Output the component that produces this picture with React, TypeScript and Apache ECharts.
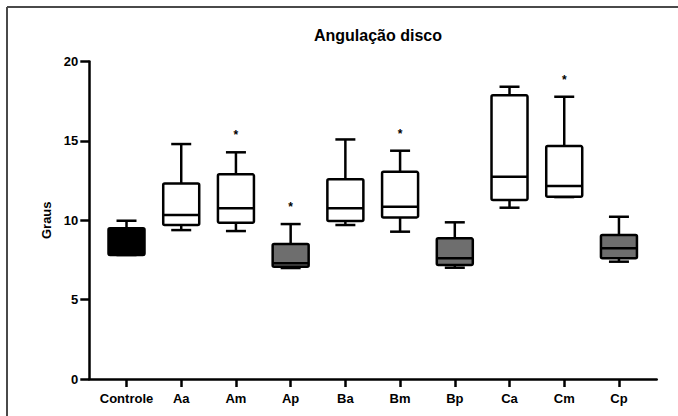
import React, { useEffect, useRef } from "react";
import * as echarts from "echarts";

const categories = ["Controle", "Aa", "Am", "Ap", "Ba", "Bm", "Bp", "Ca", "Cm", "Cp"];
const minValues = [7.81, 9.38, 9.32, 6.99, 9.7, 9.28, 7.01, 10.79, 11.46, 7.39];
const q1Values = [7.81, 9.7, 9.84, 7.07, 9.95, 10.18, 7.18, 11.27, 11.48, 7.6];
const medianValues = [8.8, 10.33, 10.75, 7.29, 10.75, 10.85, 7.6, 12.74, 12.15, 8.23];
const q3Values = [9.49, 12.32, 12.89, 8.5, 12.59, 13.05, 8.86, 17.88, 14.67, 9.07];
const maxValues = [9.97, 14.8, 14.28, 9.76, 15.09, 14.38, 9.87, 18.41, 17.78, 10.22];
const fillColors = ["#000000", "#ffffff", "#ffffff", "#6e6e6e", "#ffffff", "#ffffff", "#6e6e6e", "#ffffff", "#ffffff", "#6e6e6e"];
const significant = [false, false, true, true, false, true, false, false, true, false];
const yTicks = [0, 5, 10, 15, 20];

const FONT = "'Liberation Sans', Arial, sans-serif";

export default function App() {
  const ref = useRef<HTMLDivElement>(null);
  useEffect(() => {
    if (!ref.current) return;
    const chart = echarts.init(ref.current, null, { renderer: "svg" });
    const data = categories.map((c, i) => [
      i + 1,
      minValues[i],
      q1Values[i],
      medianValues[i],
      q3Values[i],
      maxValues[i],
      i,
    ]);
    const lw = 2.5;
    const option: any = {
      animation: false,
      backgroundColor: "#ffffff",
      title: {
        text: "Angulação disco",
        left: 373,
        top: 22,
        textAlign: "center",
        textStyle: { fontFamily: FONT, fontWeight: "bold", fontSize: 16, color: "#000" },
      },
      graphic: [
        {
          type: "line",
          shape: { x1: 7, y1: 7, x2: 678, y2: 7 },
          style: { stroke: "#4a4a4a", lineWidth: 2 },
          silent: true,
        },
        {
          type: "line",
          shape: { x1: 7, y1: 7, x2: 7, y2: 416 },
          style: { stroke: "#4a4a4a", lineWidth: 2 },
          silent: true,
        },
      ],
      grid: { left: 89.3, right: 21.3, top: 61.5, bottom: 37, containLabel: false },
      xAxis: {
        type: "value",
        min: 0.32,
        max: 10.69,
        splitLine: { show: false },
        axisLine: { show: true, lineStyle: { color: "#000", width: 2.5 } },
        axisTick: {
          show: true,
          length: 8,
          customValues: categories.map((c, i) => i + 1),
          lineStyle: { color: "#000", width: 2.5 },
        },
        axisLabel: {
          customValues: categories.map((c, i) => i + 1),
          formatter: (v: number) => categories[Math.round(v) - 1] || "",
          margin: 13,
          fontFamily: FONT,
          fontWeight: "bold",
          fontSize: 13,
          color: "#000",
        },
      },
      yAxis: {
        type: "value",
        min: 0,
        max: 20,
        interval: 5,
        name: "Graus",
        nameLocation: "middle",
        nameGap: 35,
        nameTextStyle: { fontFamily: FONT, fontWeight: "bold", fontSize: 13, color: "#000" },
        splitLine: { show: false },
        axisLine: { show: true, lineStyle: { color: "#000", width: 2.5 } },
        axisTick: { show: true, length: 9, lineStyle: { color: "#000", width: 2.5 } },
        axisLabel: {
          margin: 11,
          fontFamily: FONT,
          fontWeight: "bold",
          fontSize: 13,
          color: "#000",
          formatter: (v: number) => (yTicks.includes(v) ? String(v) : ""),
        },
      },
      series: [
        {
          type: "custom",
          data,
          encode: { x: 0, y: [1, 2, 3, 4, 5] },
          renderItem: (params: any, api: any) => {
            const x = api.value(0);
            const idx = api.value(6);
            const pMin = api.coord([x, api.value(1)]);
            const pQ1 = api.coord([x, api.value(2)]);
            const pMed = api.coord([x, api.value(3)]);
            const pQ3 = api.coord([x, api.value(4)]);
            const pMax = api.coord([x, api.value(5)]);
            const cx = pMed[0];
            const hw = 18;
            const cw = 10;
            const stroke = { stroke: "#000", lineWidth: lw, fill: "none" };
            const children: any[] = [
              { type: "line", shape: { x1: cx, y1: pMax[1], x2: cx, y2: pQ3[1] }, style: stroke },
              { type: "line", shape: { x1: cx - cw, y1: pMax[1], x2: cx + cw, y2: pMax[1] }, style: stroke },
              { type: "line", shape: { x1: cx, y1: pQ1[1], x2: cx, y2: pMin[1] }, style: stroke },
              { type: "line", shape: { x1: cx - cw, y1: pMin[1], x2: cx + cw, y2: pMin[1] }, style: stroke },
              {
                type: "rect",
                shape: { x: cx - hw, y: pQ3[1], width: hw * 2, height: pQ1[1] - pQ3[1], r: 1.5 },
                style: { fill: fillColors[idx], stroke: "#000", lineWidth: lw },
              },
              { type: "line", shape: { x1: cx - hw, y1: pMed[1], x2: cx + hw, y2: pMed[1] }, style: stroke },
            ];
            if (significant[idx]) {
              children.push({
                type: "text",
                x: cx,
                y: pMax[1] - 17,
                style: {
                  text: "*",
                  fill: "#000",
                  font: "bold 12px " + FONT,
                  align: "center",
                  verticalAlign: "middle",
                },
              });
            }
            return { type: "group", children };
          },
        },
      ],
    };
    chart.setOption(option);
    return () => chart.dispose();
  }, []);
  return (
    <div
      ref={ref}
      style={{ position: "fixed", left: 0, top: 0, width: 678, height: 416, background: "#fff" }}
    />
  );
}
